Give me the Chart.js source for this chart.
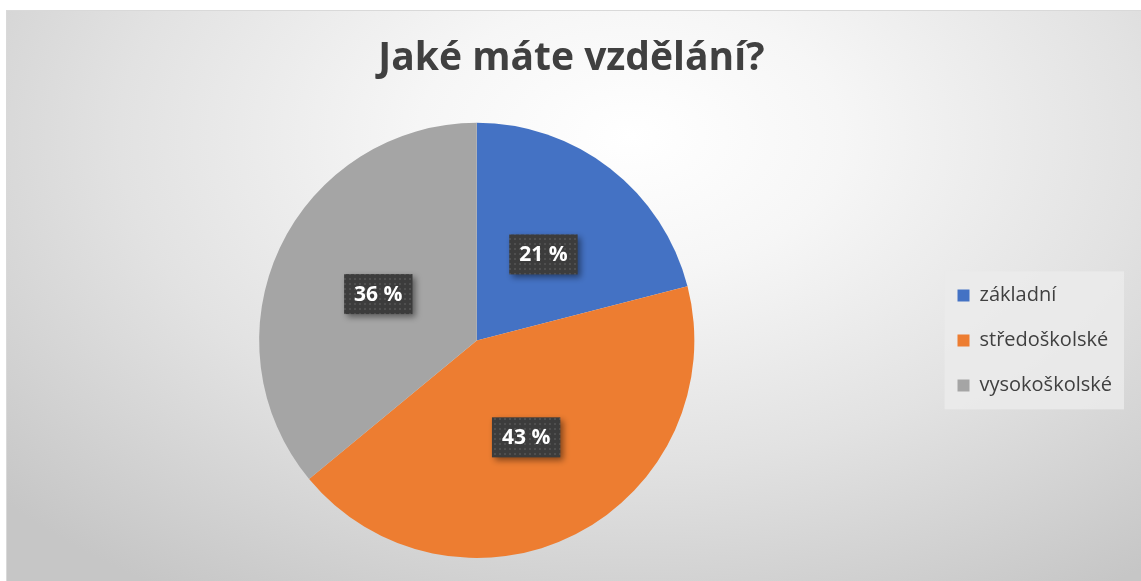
<!DOCTYPE html>
<html>
<head>
<meta charset="utf-8">
<script src="https://cdn.jsdelivr.net/npm/chart.js@4/dist/chart.umd.min.js"></script>
<style>
  html, body { margin: 0; padding: 0; background: #fff; }
  #box {
    position: absolute; left: 6px; top: 10px; width: 1135px; height: 571px;
    border-top: 1px solid #d9d9d9; border-left: 1px solid #d9d9d9; box-sizing: border-box;
    background: radial-gradient(ellipse 75% 95% at 55% 22%, #ffffff 0%, #f6f6f6 25%, #e2e2e2 60%, #c6c6c6 100%);
  }
  canvas { position: absolute; left: 0; top: 0; }
</style>
</head>
<body>
<div id="box"><canvas id="myChart" width="1135" height="571"></canvas></div>
<script>
// data
const categories = ['základní', 'středoškolské', 'vysokoškolské'];
const shares = [21, 43, 36];
const sliceColors = ['#4472C4', '#ED7D31', '#A5A5A5'];
const chartTitle = 'Jaké máte vzdělání?';

// dotted dark fill for the data label boxes
function makePattern(ctx) {
    const c = document.createElement('canvas');
    c.width = 5; c.height = 5;
    const p = c.getContext('2d');
    p.fillStyle = '#3c3c3c';
    p.fillRect(0, 0, 5, 5);
    p.fillStyle = '#4f4f4f';
    p.fillRect(2, 2, 2, 2);
    return ctx.createPattern(c, 'repeat');
}

const legendBg = {
    id: 'legendBg',
    beforeDraw(chart) {
        const boxes = chart.legend.legendHitBoxes;
        if (!boxes || !boxes.length) return;
        let l = Infinity, t = Infinity, r = -Infinity, b = -Infinity;
        boxes.forEach(h => {
            l = Math.min(l, h.left); t = Math.min(t, h.top);
            r = Math.max(r, h.left + h.width); b = Math.max(b, h.top + h.height);
        });
        const ctx = chart.ctx;
        ctx.save();
        ctx.fillStyle = 'rgba(235,235,235,0.85)';
        ctx.fillRect(l - 13, t - 14, r - l + 25, b - t + 28);
        ctx.restore();
    }
};

const pctLabels = {
    id: 'pctLabels',
    afterDatasetsDraw(chart) {
        const ctx = chart.ctx;
        const pattern = makePattern(ctx);
        const meta = chart.getDatasetMeta(0);
        ctx.save();
        ctx.font = 'bold 21px "Open Sans"';
        meta.data.forEach((arc, i) => {
            const pos = arc.tooltipPosition();
            const txt = shares[i] + ' %';
            const w = ctx.measureText(txt).width + 20;
            const h = 40;
            ctx.save();
            ctx.shadowColor = 'rgba(0,0,0,0.45)';
            ctx.shadowBlur = 6;
            ctx.shadowOffsetX = 3;
            ctx.shadowOffsetY = 3;
            ctx.fillStyle = pattern;
            ctx.fillRect(pos.x - w / 2, pos.y - h / 2, w, h);
            ctx.restore();
            ctx.fillStyle = '#ffffff';
            ctx.textAlign = 'center';
            ctx.textBaseline = 'middle';
            ctx.fillText(txt, pos.x, pos.y + 1);
        });
        ctx.restore();
    }
};

const ctx = document.getElementById('myChart').getContext('2d');
const myChart = new Chart(ctx, {
    type: 'pie',
    data: {
        labels: categories,
        datasets: [{
            data: shares,
            backgroundColor: sliceColors,
            borderWidth: 0
        }]
    },
    options: {
        responsive: false,
        animation: false,
        layout: { padding: { left: 14, right: 20, top: 0, bottom: 24 } },
        plugins: {
            title: {
                display: true,
                text: chartTitle,
                color: '#404040',
                font: { family: 'Open Sans', size: 39, weight: 'bold' },
                padding: { top: 24, bottom: 41 }
            },
            legend: {
                position: 'right',
                fullSize: false,
                labels: {
                    color: '#404040',
                    font: { family: 'Open Sans', size: 20 },
                    boxWidth: 12,
                    boxHeight: 12,
                    padding: 25
                }
            },
            tooltip: { enabled: false }
        }
    },
    plugins: [legendBg, pctLabels]
});
</script>
</body>
</html>
